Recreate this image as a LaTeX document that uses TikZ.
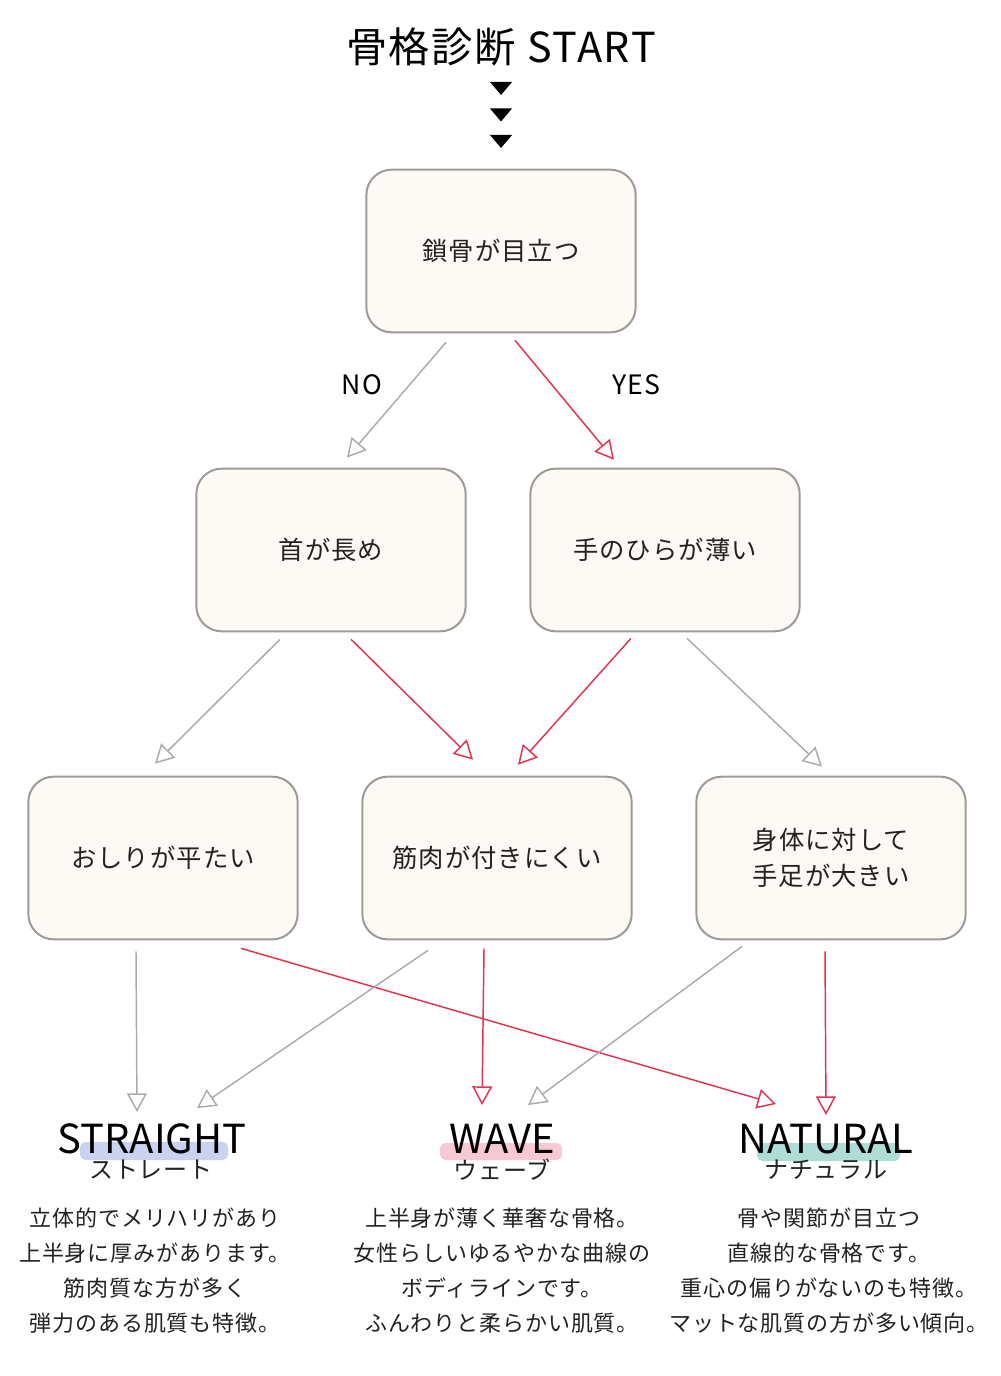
\documentclass[tikz,border=0pt]{standalone}
\usepackage{fontspec}
\setmainfont[LetterSpace=4]{Noto Sans CJK JP}
\newfontfamily\latinfont{Noto Sans CJK JP}
\usepackage{tikz}
\usetikzlibrary{arrows.meta,positioning,calc}
\usepackage{xcolor}
\definecolor{boxline}{HTML}{9E9A98}
\definecolor{boxfill}{HTML}{FDF9F5}
\definecolor{yesred}{HTML}{E8304F}
\definecolor{nogray}{HTML}{ABABAB}
\definecolor{hlblue}{HTML}{C9D2F0}
\definecolor{hlpink}{HTML}{F6C9D5}
\definecolor{hlteal}{HTML}{ADDDD6}
\definecolor{inkdark}{HTML}{222222}

\begin{document}
\begin{tikzpicture}[x=0.75pt, y=-0.75pt,
  qbox/.style={rectangle, draw=boxline, line width=1.5pt, fill=boxfill, rounded corners=19pt,
    minimum width=202pt, minimum height=122pt, align=center, text=inkdark,
    font=\fontsize{19}{27}\selectfont},
  yesarr/.style={-{Triangle[open, length=14pt, width=15pt]}, line width=1.1pt, yesred},
  noarr/.style={-{Triangle[open, length=14pt, width=15pt]}, line width=1.1pt, nogray},
  typename/.style={font=\latinfont\fontsize{30}{30}\selectfont, text=black, inner sep=0pt},
  typekana/.style={font=\fontsize{18}{18}\selectfont, text=inkdark, inner sep=0pt},
  typetext/.style={font=\fontsize{16.5}{26.25}\selectfont, text=inkdark, align=center, inner sep=0pt},
  yn/.style={font=\fontsize{20}{20}\selectfont, text=black, inner sep=0pt}
]
  \useasboundingbox (0,0) rectangle (1000,1376);

  % title
  \node[font=\fontsize{31}{31}\selectfont, inner sep=0pt] (title) at (501,47) {骨格診断 START};
  \foreach \ty in {88.5,115,141.5}
    \fill (490,\ty-6.5) -- (512,\ty-6.5) -- (501,\ty+6.5) -- cycle;

  % questions
  \node[qbox] (clavicle) at (501,251) {鎖骨が目立つ};
  \node[qbox] (neck) at (331,550) {首が長め};
  \node[qbox] (palm) at (665,550) {手のひらが薄い};
  \node[qbox] (hip) at (163,858) {おしりが平たい};
  \node[qbox] (muscle) at (497,858) {筋肉が付きにくい};
  \node[qbox] (limbs) at (831,858) {身体に対して\\手足が大きい};

  \node[yn] (no) at (362,385) {NO};
  \node[yn] (yes) at (636,385) {YES};

  % results
  \fill[hlblue, rounded corners=4pt] (80,1142) rectangle (228,1160);
  \fill[hlpink, rounded corners=4pt] (440,1143) rectangle (562,1160);
  \fill[hlteal, rounded corners=4pt] (757,1143) rectangle (900,1161);

  \node[typename] (straight) at (152,1139) {STRAIGHT};
  \node[typename] (wave) at (502,1139) {WAVE};
  \node[typename] (natural) at (826,1139) {NATURAL};

  \node[typekana] (straightkana) at (151,1170) {ストレート};
  \node[typekana] (wavekana) at (502,1170) {ウェーブ};
  \node[typekana] (naturalkana) at (826,1170) {ナチュラル};

  \node[typetext] (straighttext) at (155,1271) {立体的でメリハリがあり\\上半身に厚みがあります。\\筋肉質な方が多く\\弾力のある肌質も特徴。};
  \node[typetext] (wavetext) at (502,1271) {上半身が薄く華奢な骨格。\\女性らしいゆるやかな曲線の\\ボディラインです。\\ふんわりと柔らかい肌質。};
  \node[typetext] (naturaltext) at (829,1271) {骨や関節が目立つ\\直線的な骨格です。\\重心の偏りがないのも特徴。\\マットな肌質の方が多い傾向。};

  % connectors
  \draw[noarr] ($(clavicle.south)+(-55,9)$) -- ($(neck.north)+(16,-10)$);
  \draw[yesarr] ($(clavicle.south)+(14,7)$) -- ($(palm.north)+(-51,-8)$);
  \draw[noarr] ($(neck.south)+(-51,7)$) -- ($(hip.north)+(-8,-12)$);
  \draw[yesarr] ($(neck.south)+(20,7)$) -- ($(muscle.north)+(-24,-16)$);
  \draw[yesarr] ($(palm.south)+(-34,6)$) -- ($(muscle.north)+(21,-11)$);
  \draw[noarr] ($(palm.south)+(22,6)$) -- ($(limbs.north)+(-9,-9)$);
  \draw[noarr] ($(hip.south)+(-27,11)$) -- ($(straight.center)+(-15,-27)$);
  \draw[yesarr] ($(hip.south)+(78,8)$) -- ($(natural.center)+(-50,-35)$);
  \draw[noarr] ($(muscle.south)+(-69,10)$) -- ($(straight.center)+(45,-31)$);
  \draw[yesarr] ($(muscle.south)+(-13,8)$) -- ($(wave.center)+(-20,-34)$);
  \draw[noarr] ($(limbs.south)+(-89,6)$) -- ($(wave.center)+(26,-34)$);
  \draw[yesarr] ($(limbs.south)+(-6,11)$) -- ($(natural.center)+(0,-24)$);
\end{tikzpicture}
\end{document}
